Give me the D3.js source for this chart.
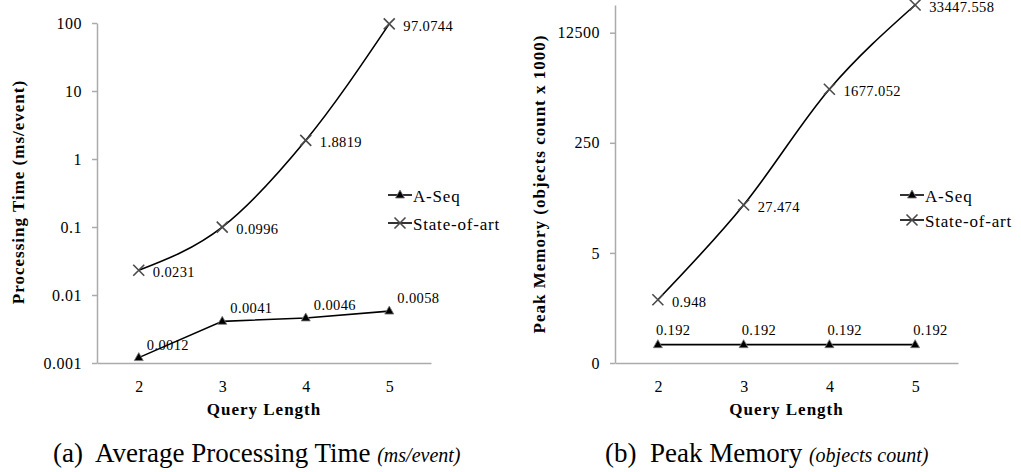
<!DOCTYPE html>
<html>
<head>
<meta charset="utf-8">
<script src="https://cdn.jsdelivr.net/npm/d3@7"></script>
<style>
body{margin:0;background:#fff}
svg text{font-family:'Liberation Serif','Times New Roman',serif;fill:#000}
</style>
</head>
<body>
<svg id="chart" width="1021" height="472"></svg>
<script>
// data
const queryLengths = ["2", "3", "4", "5"];
const seriesNames = ["A-Seq", "State-of-art"];
const timeASeq = [0.0012, 0.0041, 0.0046, 0.0058];
const timeState = [0.0231, 0.0996, 1.8819, 97.0744];
const memASeq = [0.192, 0.192, 0.192, 0.192];
const memState = [0.948, 27.474, 1677.052, 33447.558];
const timeTicks = [0.001, 0.01, 0.1, 1, 10, 100];
const timeTickLabels = ["0.001", "0.01", "0.1", "1", "10", "100"];
const memTicks = [0.1, 5, 250, 12500];
const memTickLabels = ["0", "5", "250", "12500"];

const svg = d3.select("#chart");
const axisColor = "#ababab";
const serif = "'Liberation Serif','Times New Roman',serif";

const panels = [
  {
    left: 97, right: 431, top: 23, bottom: 363,
    domain: [0.001, 100], ticks: timeTicks, tickLabels: timeTickLabels,
    aseq: timeASeq, state: timeState,
    ytitle: "Processing Time (ms/event)", ytitleX: 18, ytitleY: 192,
    capX: 53, capMain: "(a)\u00a0 Average Processing Time", capItalic: "(ms/event)",
    legX: 388, legY: [195, 223],
    aseqDx: 8, aseqDy: -13
  },
  {
    left: 615, right: 958, top: 5, bottom: 363,
    domain: [0.1, d3.max(memState)], ticks: memTicks, tickLabels: memTickLabels,
    aseq: memASeq, state: memState,
    ytitle: "Peak Memory (objects count x 1000)", ytitleX: 539, ytitleY: 184,
    capX: 605, capMain: "(b)\u00a0 Peak Memory", capItalic: "(objects count)",
    legX: 900, legY: [195, 220],
    aseqDx: -2, aseqDy: -15
  }
];

function drawCross(g, x, y) {
  const s = 5.5;
  g.append("path")
    .attr("d", `M${x - s},${y - s}L${x + s},${y + s}M${x - s},${y + s}L${x + s},${y - s}`)
    .attr("stroke", "#4a4a4a").attr("stroke-width", 1.6).attr("fill", "none");
}
function drawTri(g, x, y) {
  g.append("path")
    .attr("d", `M${x},${y - 5}L${x + 4.5},${y + 3}L${x - 4.5},${y + 3}Z`)
    .attr("fill", "#000").attr("stroke", "#777").attr("stroke-width", 0.8);
}

panels.forEach(p => {
  const g = svg.append("g");
  const x = d3.scalePoint().domain(queryLengths).range([p.left, p.right]).padding(0.5);
  const y = d3.scaleLog().domain(p.domain).range([p.bottom, p.top]);

  // y axis
  const ya = g.append("g").attr("transform", `translate(${p.left},0)`)
    .call(d3.axisLeft(y).tickValues(p.ticks)
      .tickFormat((d, i) => p.tickLabels[i]).tickSize(5).tickSizeOuter(0).tickPadding(10));
  ya.selectAll("path,line").attr("stroke", axisColor).attr("stroke-width", 1.5);
  ya.selectAll("text").attr("font-size", 16).attr("font-family", serif).attr("letter-spacing", 0.5);

  // x axis
  const xa = g.append("g").attr("transform", `translate(0,${p.bottom})`)
    .call(d3.axisBottom(x).tickSize(0).tickSizeOuter(0).tickPadding(18));
  xa.select("path").attr("stroke", axisColor).attr("stroke-width", 1.5);
  xa.selectAll("text").attr("font-size", 16).attr("font-family", serif);

  // titles
  g.append("text").attr("x", (p.left + p.right) / 2).attr("y", 415)
    .attr("text-anchor", "middle").attr("font-size", 17).attr("font-weight", "bold")
    .attr("letter-spacing", 1).text("Query Length");
  g.append("text").attr("transform", `translate(${p.ytitleX},${p.ytitleY}) rotate(-90)`)
    .attr("text-anchor", "middle").attr("dominant-baseline", "central")
    .attr("font-size", 17).attr("font-weight", "bold").attr("letter-spacing", 1).text(p.ytitle);

  // lines
  const pts = vals => vals.map((v, i) => [x(queryLengths[i]), y(v)]);
  g.append("path").attr("d", d3.line().curve(d3.curveMonotoneX)(pts(p.state)))
    .attr("fill", "none").attr("stroke", "#000").attr("stroke-width", 1.6);
  g.append("path").attr("d", d3.line()(pts(p.aseq)))
    .attr("fill", "none").attr("stroke", "#000").attr("stroke-width", 1.6);

  pts(p.state).forEach(([px, py]) => drawCross(g, px, py));
  pts(p.aseq).forEach(([px, py]) => drawTri(g, px, py));

  // data labels
  pts(p.state).forEach(([px, py], i) => {
    g.append("text").attr("x", px + 14).attr("y", py + 2)
      .attr("dominant-baseline", "central").attr("font-size", 14.5)
      .attr("letter-spacing", 0.4).text(p.state[i]);
  });
  pts(p.aseq).forEach(([px, py], i) => {
    g.append("text").attr("x", px + p.aseqDx).attr("y", py + p.aseqDy)
      .attr("dominant-baseline", "central").attr("font-size", 14.5)
      .attr("letter-spacing", 0.4).text(p.aseq[i]);
  });

  // legend
  seriesNames.forEach((name, i) => {
    const ly = p.legY[i];
    g.append("line").attr("x1", p.legX).attr("x2", p.legX + 24).attr("y1", ly).attr("y2", ly)
      .attr("stroke", "#000").attr("stroke-width", 1.6);
    if (i === 0) drawTri(g, p.legX + 12, ly);
    else drawCross(g, p.legX + 12, ly);
    g.append("text").attr("x", p.legX + 25).attr("y", ly + 1)
      .attr("dominant-baseline", "central").attr("font-size", 17)
      .attr("letter-spacing", 0.8).text(name);
  });

  // caption
  const cap = g.append("text").attr("x", p.capX).attr("y", 462).attr("font-size", 27);
  cap.append("tspan").text(p.capMain + " ");
  cap.append("tspan").attr("font-style", "italic").attr("font-size", 20).text(p.capItalic);
});
</script>
</body>
</html>
